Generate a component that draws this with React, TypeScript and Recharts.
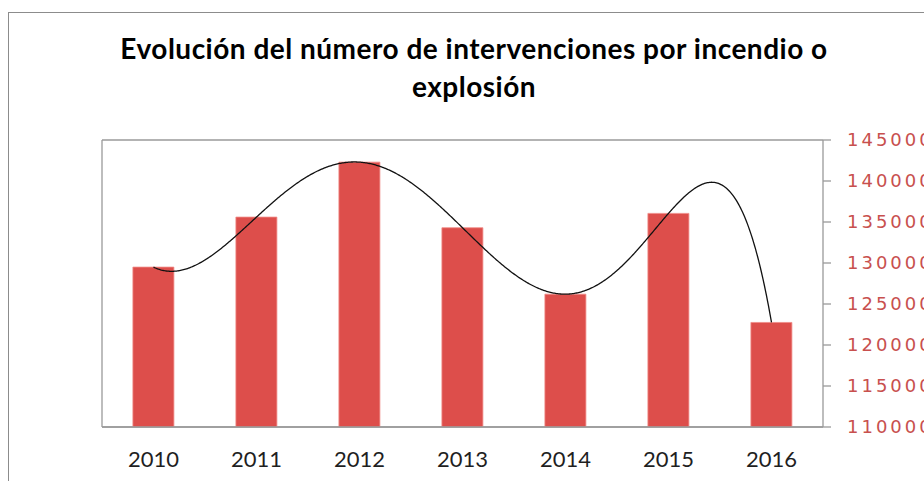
import React from "react";
import { ComposedChart, Bar, Line, XAxis, YAxis, CartesianGrid } from "recharts";

const YEARS = ["2010", "2011", "2012", "2013", "2014", "2015", "2016"];
const INTERVENCIONES = [129500, 135600, 142300, 134300, 126200, 136050, 122750];
const RIGHT_TICKS = [110000, 115000, 120000, 125000, 130000, 135000, 140000, 145000];
const TITLE_LINES = ["Evolución del número de intervenciones por incendio o", "explosión"];
const Y_DOMAIN: [number, number] = [110000, 145000];
const GRID_DIVISIONS = 6;

const data = YEARS.map((year, i) => ({ year, value: INTERVENCIONES[i] }));
const gridTicks = Array.from(
  { length: GRID_DIVISIONS + 1 },
  (_, i) => Y_DOMAIN[0] + (i * (Y_DOMAIN[1] - Y_DOMAIN[0])) / GRID_DIVISIONS
);

const GRAY = "#9a9a9a";
const BAR_RED = "#DD4E4B";
const LABEL_RED = "#C8504E";

// Polynomial trend line (order n-1) through the series points, like Excel's polynomial trendline
function polynomialTrend(context: any) {
  let pts: [number, number][] = [];
  return {
    areaStart() {},
    areaEnd() {},
    lineStart() {
      pts = [];
    },
    point(x: number, y: number) {
      pts.push([+x, +y]);
    },
    lineEnd() {
      const n = pts.length;
      if (n === 0) return;
      const evalAt = (x: number) => {
        let s = 0;
        for (let i = 0; i < n; i++) {
          let term = pts[i][1];
          for (let j = 0; j < n; j++) {
            if (j !== i) term *= (x - pts[j][0]) / (pts[i][0] - pts[j][0]);
          }
          s += term;
        }
        return s;
      };
      const x0 = pts[0][0];
      const x1 = pts[n - 1][0];
      const steps = Math.max(1, Math.round(Math.abs(x1 - x0)));
      for (let k = 0; k <= steps; k++) {
        const x = x0 + ((x1 - x0) * k) / steps;
        const y = n === 1 ? pts[0][1] : evalAt(x);
        if (k === 0) context.moveTo(x, y);
        else context.lineTo(x, y);
      }
    },
  };
}

export default function App() {
  return (
    <div
      style={{
        position: "fixed",
        left: 0,
        top: 0,
        width: 924,
        height: 481,
        overflow: "hidden",
        background: "#fff",
      }}
    >
      <div
        style={{
          position: "absolute",
          left: 8,
          top: 12,
          width: 1200,
          height: 1000,
          border: "1px solid #8c8c8c",
          boxSizing: "border-box",
        }}
      />
      <div
        style={{
          position: "absolute",
          left: 0,
          top: 29,
          width: 948,
          textAlign: "center",
          fontFamily: "Lato, sans-serif",
          fontWeight: 700,
          fontSize: 28,
          letterSpacing: 0.5,
          lineHeight: "38px",
          color: "#000",
        }}
      >
        {TITLE_LINES.map((t) => (
          <div key={t}>{t}</div>
        ))}
      </div>
      <div style={{ position: "absolute", left: 0, top: 0 }}>
        <ComposedChart
          width={1000}
          height={481}
          data={data}
          margin={{ top: 140, right: 77, bottom: 14, left: 101 }}
          barCategoryGap="30%"
        >
          <CartesianGrid yAxisId="left" vertical={false} stroke={GRAY} strokeWidth={1.3} />
          <XAxis
            dataKey="year"
            interval={0}
            tickLine={false}
            axisLine={{ stroke: GRAY, strokeWidth: 1.3 }}
            tick={{ fill: "#1f1f1f", fontSize: 22, fontFamily: "Lato, sans-serif" }}
            tickSize={0}
            tickMargin={24}
            height={40}
          />
          <YAxis
            yAxisId="left"
            type="number"
            domain={Y_DOMAIN}
            ticks={gridTicks}
            tick={false}
            tickLine={false}
            axisLine={{ stroke: GRAY, strokeWidth: 1.3 }}
            width={1}
            allowDataOverflow
          />
          <YAxis
            yAxisId="right"
            orientation="right"
            type="number"
            domain={Y_DOMAIN}
            ticks={RIGHT_TICKS}
            interval={0}
            axisLine={{ stroke: GRAY, strokeWidth: 1.3 }}
            tickLine={{ stroke: GRAY, strokeWidth: 1.3 }}
            tickSize={8}
            tickMargin={16}
            tick={{
              fill: LABEL_RED,
              fontSize: 18,
              fontFamily: "'DejaVu Sans', sans-serif",
              letterSpacing: 3,
            }}
            width={100}
            allowDataOverflow
          />
          <Bar
            yAxisId="right"
            dataKey="value"
            fill={BAR_RED}
            stroke="#f08a86"
            strokeWidth={0.8}
            isAnimationActive={false}
          />
          <Line
            yAxisId="right"
            dataKey="value"
            type={polynomialTrend as any}
            stroke="#111"
            strokeWidth={1.3}
            dot={false}
            activeDot={false}
            isAnimationActive={false}
          />
        </ComposedChart>
      </div>
    </div>
  );
}
